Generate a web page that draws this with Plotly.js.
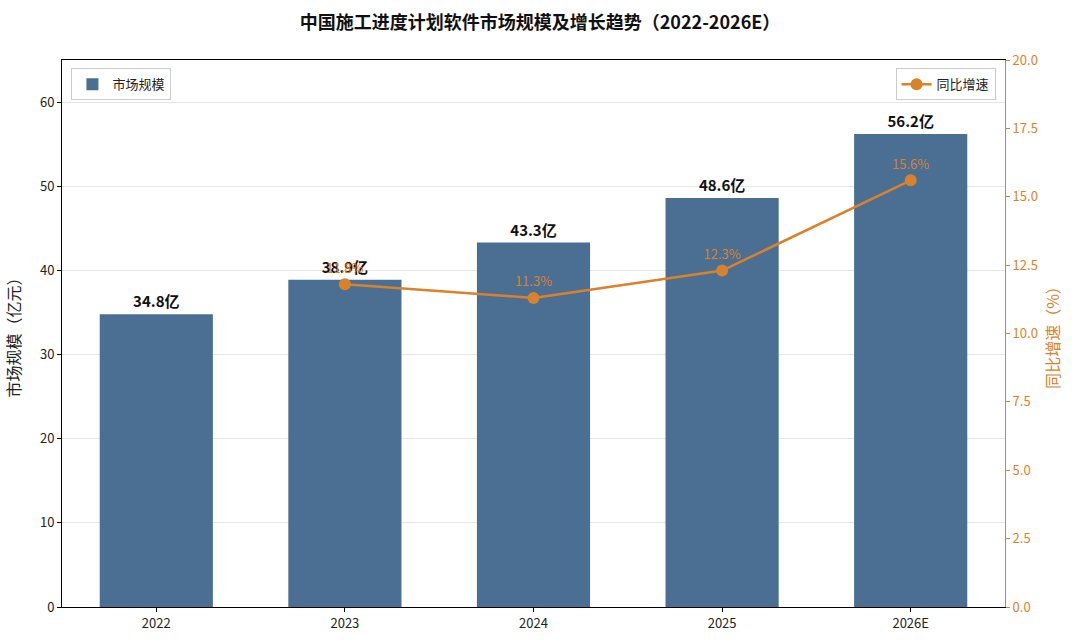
<!DOCTYPE html>
<html><head><meta charset="utf-8">
<script src="https://cdn.plot.ly/plotly-3.0.1.min.js"></script>
<style>body{margin:0}</style></head>
<body><div id="c" style="width:1080px;height:644px"></div>
<script>
const years = ["2022","2023","2024","2025","2026E"];
const marketSize = [34.8,38.9,43.3,48.6,56.2];
const growthYears = ["2023","2024","2025","2026E"];
const growthRate = [11.8,11.3,12.3,15.6];
const F = '"Noto Sans CJK SC","Noto Sans",sans-serif';
const blue = '#4a6f93', orange = '#d9822b';
Plotly.newPlot('c', [
 {type:'bar', x:years, y:marketSize, name:'市场规模', marker:{color:blue}, width:0.6,
  text:marketSize.map(v=>v+'亿'), textposition:'outside', cliponaxis:false,
  textfont:{family:F,size:15,color:'#111',weight:'bold'}, legend:'legend'},
 {type:'scatter', mode:'lines+markers+text', x:growthYears, y:growthRate, yaxis:'y2', name:'同比增速',
  line:{color:orange,width:2.5}, marker:{color:orange,size:12},
  text:growthRate.map(v=>v.toFixed(1)+'%'), textposition:'top center',
  textfont:{family:F,size:13,color:orange}, legend:'legend2'}
], {
 width:1080, height:644, margin:{l:62,r:75,t:60,b:37},
 font:{family:F,size:13,color:'#222'},
 title:{text:'<b>中国施工进度计划软件市场规模及增长趋势（2022-2026E）</b>', x:0.5, y:0.975, font:{size:18,color:'#111'}},
 plot_bgcolor:'#fff', paper_bgcolor:'#fff',
 xaxis:{type:'category',categoryorder:'array',categoryarray:years,showline:true,linecolor:'#000',mirror:true,ticks:'outside',ticklen:4,tickcolor:'#000'},
 yaxis:{range:[0,65],dtick:10,showgrid:true,gridcolor:'#e6e6e6',showline:true,linecolor:'#000',ticks:'outside',ticklen:4,tickcolor:'#000',zeroline:false,
  title:{text:'市场规模（亿元）',font:{size:16}}},
 yaxis2:{overlaying:'y',side:'right',range:[0,20],dtick:2.5,tickformat:'.1f',showgrid:false,showline:true,linecolor:orange,
  ticks:'outside',ticklen:4,tickcolor:orange,tickfont:{color:orange},zeroline:false,
  title:{text:'同比增速（%）',font:{size:16,color:orange}}},
 legend:{x:0.01,y:0.985,xanchor:'left',yanchor:'top',bordercolor:'#ccc',borderwidth:1,bgcolor:'#fff'},
 legend2:{x:0.99,y:0.985,xanchor:'right',yanchor:'top',bordercolor:'#ccc',borderwidth:1,bgcolor:'#fff'},
 showlegend:true
}, {displayModeBar:false});
</script></body></html>
